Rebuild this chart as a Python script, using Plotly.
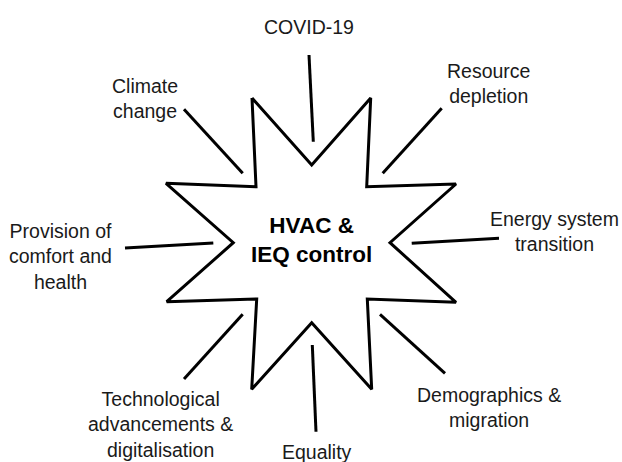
import plotly.graph_objects as go

# Star outline vertices (diagram coordinates, y downwards)
star_x = [252, 311.7, 370.7, 366.7, 456, 390, 456, 367.3, 371.7, 311.7, 251.7, 256.7, 166.7, 233.3, 166, 256, 252]
star_y = [98, 165, 98, 186.7, 184, 242.7, 302.3, 299, 389.3, 322.7, 389.3, 299, 301.7, 242.7, 183.3, 186.7, 98]

# Spokes: start / end points
spoke_x0 = [309, 184, 441.7, 125, 411.7, 242.7, 380, 312.3]
spoke_y0 = [55, 109.3, 108.3, 248, 243.3, 314.3, 314.3, 345]
spoke_x1 = [313.3, 242.7, 382.7, 213.3, 499, 184, 445, 316]
spoke_y1 = [141.7, 173.3, 173.3, 243, 238.3, 379, 373.3, 431.7]

# Driver labels
labels = ["COVID-19", "Climate<br>change", "Resource<br>depletion", "Energy system<br>transition",
          "Provision of<br>comfort and<br>health", "Technological<br>advancements &<br>digitalisation",
          "Equality", "Demographics &<br>migration"]
label_x = [309, 145, 488.5, 554, 60, 160, 316.5, 489]
label_y = [27, 98, 83, 231.5, 256, 424, 452, 407.5]

center_label = "<b>HVAC &<br>IEQ control</b>"
center_x = 311.5
center_y = 239.5

FONT = "Liberation Sans, Arial, sans-serif"

fig = go.Figure()
fig.add_trace(go.Scatter(x=star_x, y=star_y, mode="lines", fill="toself", fillcolor="white",
                         line=dict(color="black", width=3), hoverinfo="skip", showlegend=False))

sx, sy = [], []
for a, b, c, d in zip(spoke_x0, spoke_y0, spoke_x1, spoke_y1):
    sx += [a, c, None]
    sy += [b, d, None]
fig.add_trace(go.Scatter(x=sx, y=sy, mode="lines", line=dict(color="black", width=3),
                         hoverinfo="skip", showlegend=False))

for t, x, y in zip(labels, label_x, label_y):
    fig.add_annotation(x=x, y=y, xref="x", yref="y", text=t, showarrow=False,
                       xanchor="center", yanchor="middle", align="center",
                       font=dict(family=FONT, size=19.5, color="#1a1a1a"))

fig.add_annotation(x=center_x, y=center_y, xref="x", yref="y", text=center_label, showarrow=False,
                   xanchor="center", yanchor="middle", align="center",
                   font=dict(family=FONT, size=22.5, color="black"))

fig.update_layout(width=622, height=462, margin=dict(l=0, r=0, t=0, b=0),
                  paper_bgcolor="white", plot_bgcolor="white")
fig.update_xaxes(range=[0, 622], visible=False, fixedrange=True)
fig.update_yaxes(range=[462, 0], visible=False, fixedrange=True)

fig.write_html("out.html", config={"displayModeBar": False},
               post_script="document.body.style.margin='0';document.body.style.overflow='hidden';")
